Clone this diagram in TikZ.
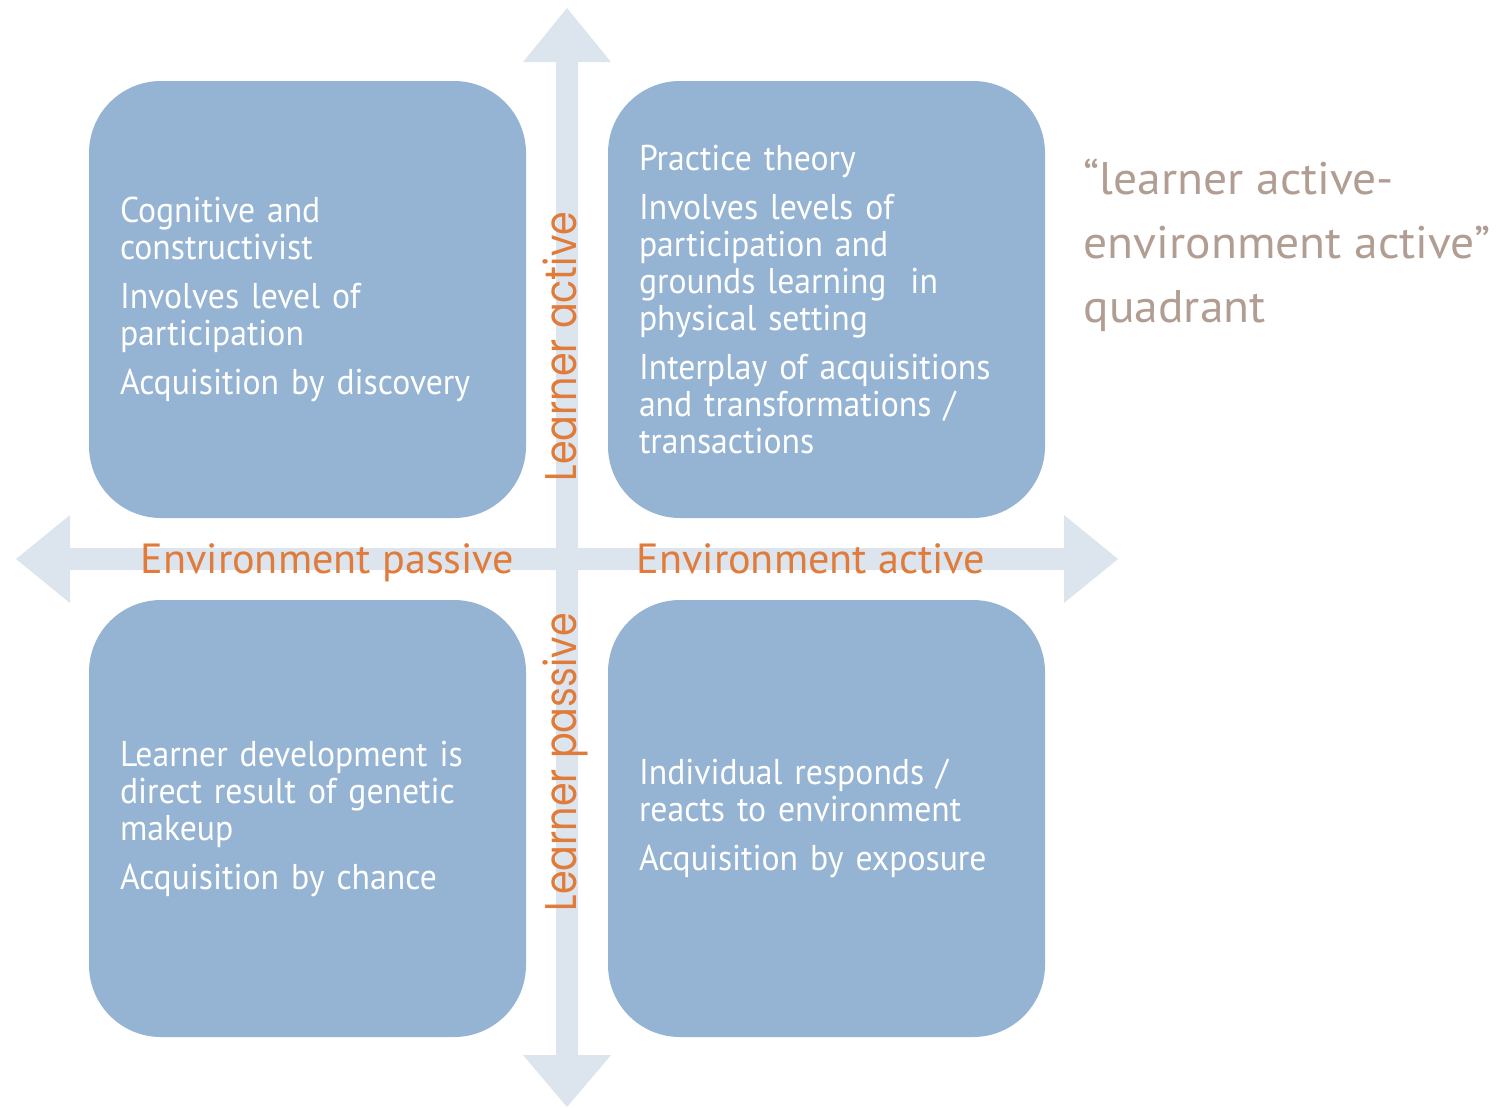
\documentclass[tikz,border=0pt]{standalone}
\usepackage{fontspec}
\setmainfont{PT Sans}[FakeStretch=0.94]
\newfontfamily\labelfont{PT Sans}
\newfontfamily\quotefont{PT Sans}[FakeStretch=1.04]
\newfontfamily\gothicfont{Poppins}[FakeStretch=0.86]
\usetikzlibrary{positioning}
\definecolor{boxblue}{RGB}{149,179,210}
\definecolor{axisgray}{RGB}{220,228,238}
\definecolor{labelorange}{RGB}{224,123,57}
\definecolor{quotebrown}{RGB}{178,157,147}
\tikzset{
  quad/.style={fill=boxblue, rounded corners=7.2mm, minimum width=43.7mm,
    minimum height=43.7mm, text width=37.5mm, inner xsep=3.1mm, inner ysep=0pt,
    align=left, text=white, font=\fontsize{10.2pt}{10.53pt}\selectfont},
  envlabel/.style={text=labelorange, inner sep=0pt, anchor=base west,
    font=\labelfont\fontsize{12pt}{14pt}\selectfont},
  learnlabel/.style={text=labelorange, inner sep=0pt, anchor=base west, rotate=90,
    font=\gothicfont\fontsize{12.6pt}{14pt}\selectfont},
}
\begin{document}
\begin{tikzpicture}[x=0.1mm,y=-0.1mm]
\useasboundingbox (0,0) rectangle (1512,1107);
% axes
\fill[axisgray] (567,8)--(611,62)--(578,62)--(578,1055)--(611,1055)--(567,1107)
  --(523,1055)--(556,1055)--(556,62)--(523,62)--cycle;
\fill[axisgray] (16,559)--(70,515)--(70,548)--(1064,548)--(1064,515)--(1118,559)
  --(1064,603)--(1064,570)--(70,570)--(70,603)--cycle;
% quadrants
\node[quad] (tl) at (307.5,299.5) {Cognitive and\\constructivist\\[3.4pt]
  Involves level of\\participation\\[3.4pt]
  Acquisition by discovery};
\node[quad] (tr) at (826.5,299.5) {Practice theory\\[3.4pt]
  Involves levels of\\participation and\\grounds learning~~in\\physical setting\\[3.4pt]
  Interplay of acquisitions\\and transformations /\\transactions};
\node[quad] (bl) at (307.5,818.5) {Learner development is\\direct result of genetic\\makeup\\[3.4pt]
  Acquisition by chance};
\node[quad] (br) at (826.5,818.5) {Individual responds /\\reacts to environment\\[3.4pt]
  Acquisition by exposure};
% axis labels
\node[envlabel] (envpas) at (140,573) {Environment passive};
\node[envlabel] (envact) at (636,573) {Environment active};
\node[learnlabel] (lact) at (576,482) {Learner active};
\node[learnlabel] (lpas) at (576,912) {Learner passive};
% note
\node[text=quotebrown, anchor=base west, inner sep=0pt, align=left,
  font=\quotefont\fontsize{13pt}{18.2pt}\selectfont] (quote) at (1083,322)
  {“learner active-\\environment active”\\quadrant};
\end{tikzpicture}
\end{document}
